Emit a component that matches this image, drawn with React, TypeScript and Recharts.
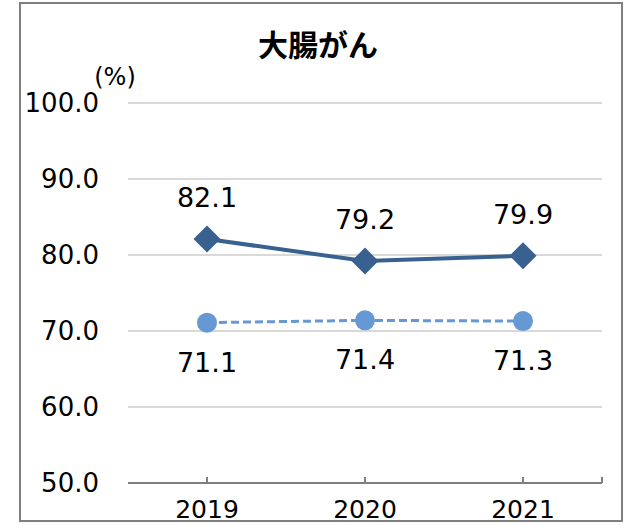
import React from 'react';
import { LineChart, Line, XAxis, YAxis, CartesianGrid } from 'recharts';

const years = ['2019', '2020', '2021'];
const seriesA = [82.1, 79.2, 79.9];
const seriesB = [71.1, 71.4, 71.3];
const yTicks = [50, 60, 70, 80, 90, 100];

const data = years.map((year, i) => ({ year, a: seriesA[i], b: seriesB[i] }));

const FONT = '"DejaVu Sans", Verdana, sans-serif';
const PLOT_RIGHT = 602;
const TICK_MARGIN = 16;

const DARK = '#386190';
const LIGHT = '#6699D3';

function Diamond(props: any) {
  const { cx, cy } = props;
  const r = 13.5;
  return (
    <path
      d={`M${cx},${cy - r} L${cx + r},${cy} L${cx},${cy + r} L${cx - r},${cy} Z`}
      fill={DARK}
    />
  );
}

function Dot(props: any) {
  const { cx, cy } = props;
  return <circle cx={cx} cy={cy} r={10} fill={LIGHT} />;
}

function XTick(props: any) {
  const { x, y, payload, index } = props;
  const axisY = y - TICK_MARGIN;
  return (
    <g>
      <line x1={x} x2={x} y1={axisY - 6} y2={axisY} stroke="#7f7f7f" strokeWidth={2} />
      {index === years.length - 1 && (
        <line x1={PLOT_RIGHT} x2={PLOT_RIGHT} y1={axisY - 6} y2={axisY} stroke="#7f7f7f" strokeWidth={2} />
      )}
      <text x={x} y={axisY + 35} textAnchor="middle" fontSize={25} fontFamily={FONT} fill="#000">
        {payload.value}
      </text>
    </g>
  );
}

const labelAbove = (props: any) => (
  <text x={props.x} y={props.y - 32} textAnchor="middle" fontSize={27} fontFamily={FONT} fill="#000">
    {Number(props.value).toFixed(1)}
  </text>
);

const labelBelow = (props: any) => (
  <text x={props.x} y={props.y + 49} textAnchor="middle" fontSize={27} fontFamily={FONT} fill="#000">
    {Number(props.value).toFixed(1)}
  </text>
);

export default function App() {
  return (
    <div style={{ position: 'absolute', left: 0, top: 0, width: 629, height: 525, background: '#fff' }}>
      <div
        style={{
          position: 'absolute',
          left: 19,
          top: 2,
          width: 600,
          height: 516,
          border: '2px solid #7f7f7f',
        }}
      />
      <LineChart
        width={629}
        height={525}
        data={data}
        margin={{ top: 103, right: 629 - PLOT_RIGHT, bottom: 0, left: 0 }}
      >
        <CartesianGrid vertical={false} stroke="#d9d9d9" strokeWidth={2} />
        <XAxis
          dataKey="year"
          padding={{ left: 79, right: 79 }}
          height={42}
          tickLine={false}
          tickSize={0}
          tickMargin={TICK_MARGIN}
          axisLine={{ stroke: '#7f7f7f', strokeWidth: 2 }}
          tick={<XTick />}
          interval={0}
        />
        <YAxis
          width={128}
          domain={[50, 100]}
          ticks={yTicks}
          axisLine={false}
          tickLine={false}
          tickSize={0}
          tickMargin={29}
          tickFormatter={(v: number) => v.toFixed(1)}
          tick={{ fontSize: 26, fontFamily: FONT, fill: '#000' }}
        />
        <Line
          dataKey="b"
          stroke={LIGHT}
          strokeWidth={3}
          strokeDasharray="8 4"
          dot={<Dot />}
          label={labelBelow}
          isAnimationActive={false}
        />
        <Line
          dataKey="a"
          stroke={DARK}
          strokeWidth={4}
          dot={<Diamond />}
          label={labelAbove}
          isAnimationActive={false}
        />
      </LineChart>
      <svg
        width={629}
        height={525}
        style={{ position: 'absolute', left: 0, top: 0, pointerEvents: 'none' }}
      >
        <text
          x={318}
          y={56}
          textAnchor="middle"
          fontSize={30}
          fontWeight="bold"
          fontFamily='"Noto Sans CJK JP", "Noto Sans", sans-serif'
          fill="#000"
        >
          大腸がん
        </text>
        <text x={115} y={85} textAnchor="middle" fontSize={24} fontFamily={FONT} fill="#000">
          (%)
        </text>
      </svg>
    </div>
  );
}
